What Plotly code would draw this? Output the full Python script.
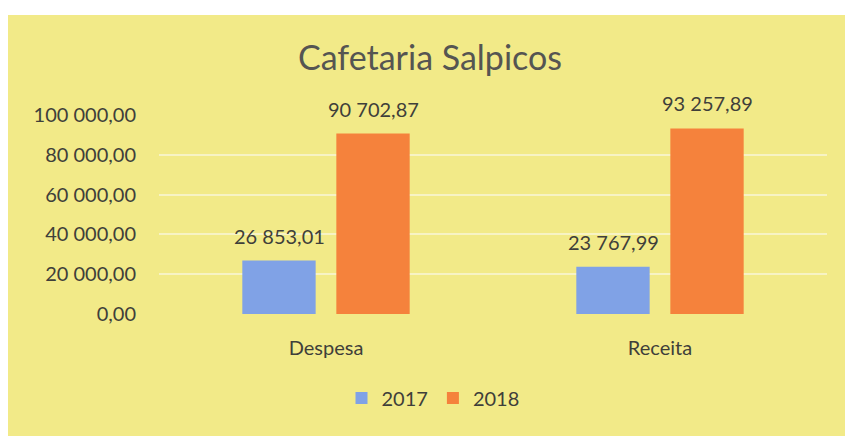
import plotly.graph_objects as go

categories = ["Despesa", "Receita"]
series_names = ["2017", "2018"]
values_2017 = [26853.01, 23767.99]
values_2018 = [90702.87, 93257.89]
tick_values = [0, 20000, 40000, 60000, 80000, 100000]

colors = {"2017": "#80a2e6", "2018": "#f5823c"}
text_color = "#3f3f3a"
font_family = "Lato"

W, H = 845, 436
L, R, T, B = 159, W - 827, 115, H - 314
pw, ph = W - L - R, H - T - B

fig = go.Figure()
for name, vals in zip(series_names, [values_2017, values_2018]):
    fig.add_trace(go.Bar(
        x=categories, y=vals, name=name,
        marker=dict(color=colors[name], line=dict(width=0)),
    ))
    for c, v in zip(categories, vals):
        fig.add_annotation(
            x=c, y=v, xref="x", yref="y",
            text=f"{v:,.2f}".replace(",", " ").replace(".", ","),
            showarrow=False, yshift=25,
            xshift=-47 if name == "2017" else 47,
            font=dict(size=20, color=text_color, family=font_family),
        )

def px_x(p):  # page px -> paper fraction
    return (p - L) / pw

def px_y(p):
    return (H - B - p) / ph

# white photo margins (top and left)
fig.add_shape(type="rect", xref="paper", yref="paper",
              x0=px_x(-5), x1=px_x(860), y0=px_y(15), y1=px_y(-5),
              fillcolor="white", line=dict(width=0), layer="below")
fig.add_shape(type="rect", xref="paper", yref="paper",
              x0=px_x(-5), x1=px_x(8), y0=px_y(445), y1=px_y(-5),
              fillcolor="white", line=dict(width=0), layer="below")

fig.update_layout(
    width=W, height=H,
    margin=dict(l=L, r=R, t=T, b=B, pad=0),
    paper_bgcolor="#f2ea88", plot_bgcolor="rgba(0,0,0,0)",
    separators=", ",
    title=dict(text="Cafetaria Salpicos", x=430 / W, xanchor="center",
               y=1 - 58 / H, yanchor="middle",
               font=dict(size=34, color="#555552", family=font_family)),
    barmode="group", bargap=0.437, bargroupgap=0.22,
    showlegend=True,
    legend=dict(orientation="h", x=px_x(433), xanchor="center", y=px_y(398), yanchor="middle",
                font=dict(size=20, color=text_color, family=font_family),
                bgcolor="rgba(0,0,0,0)", itemwidth=30),
    xaxis=dict(showgrid=False, showline=False, ticks="", ticklabelstandoff=20,
               tickfont=dict(size=20, color=text_color, family=font_family)),
    yaxis=dict(range=[0, 100000], tickvals=tick_values, tickformat=",.2f",
               showgrid=True, gridcolor="#f7f3c4", gridwidth=2, zeroline=False, showline=False,
               ticks="", ticklabelstandoff=22,
               tickfont=dict(size=20, color=text_color, family=font_family)),
)
fig.write_html("out.html", config={"displayModeBar": False},
               post_script="document.body.style.margin='0';")
